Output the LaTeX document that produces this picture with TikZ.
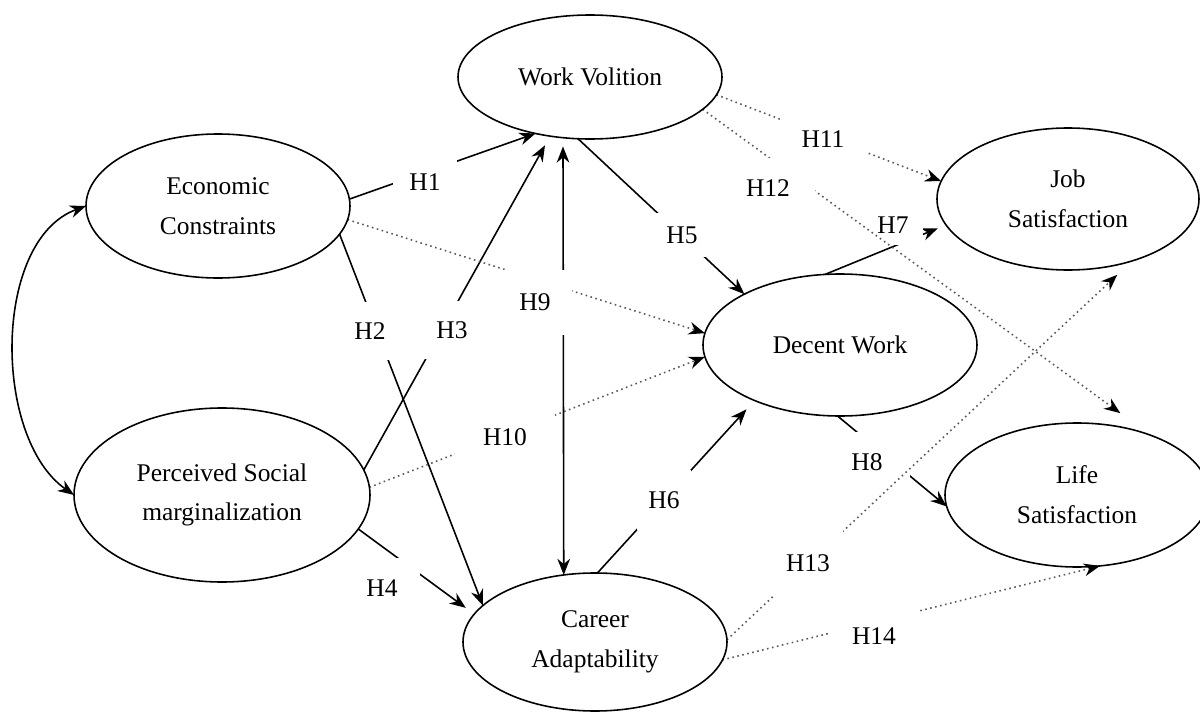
\documentclass[tikz,border=0pt]{standalone}
\usepackage{fontspec}
\setmainfont{Liberation Serif}
\usepackage{tikz}
\usetikzlibrary{arrows.meta}
\usetikzlibrary{shapes.geometric}
\pgfdeclarelayer{edgelayer}
\pgfdeclarelayer{nodelayer}
\pgfsetlayers{edgelayer,nodelayer,main}
\tikzstyle{construct}=[ellipse,draw=black,line width=0.45pt,inner sep=0pt,outer sep=0pt,align=center,font=\fontsize{7.25}{11.3}\selectfont]
\tikzstyle{hypothesis}=[rectangle,fill=white,inner sep=0pt,outer sep=0pt,font=\fontsize{7.25}{11.3}\selectfont]
\tikzstyle{direct}=[-{Stealth[length=4.6pt,width=3.6pt]},draw=black,line width=0.45pt]
\tikzstyle{indirect}=[-{Stealth[length=4.6pt,width=3.6pt,color=black]},draw=black!65,densely dotted,line width=0.45pt]
\tikzstyle{correlation}=[{Stealth[length=4.6pt,width=3.6pt]}-{Stealth[length=4.6pt,width=3.6pt]},draw=black,line width=0.45pt]

\begin{document}
\begin{tikzpicture}
	\useasboundingbox (0, 0) rectangle (12, -7.13);
	\begin{pgfonlayer}{nodelayer}
		\node [style=construct, minimum width=2.64cm, minimum height=1.44cm] (0) at (2.18, -2.06) {Economic\\Constraints};
		\node [style=construct, minimum width=2.96cm, minimum height=1.74cm] (1) at (2.22, -4.95) {Perceived Social\\marginalization};
		\node [style=construct, minimum width=2.64cm, minimum height=1.24cm] (2) at (5.90, -0.77) {Work Volition};
		\node [style=construct, minimum width=2.64cm, minimum height=1.38cm] (3) at (5.95, -6.42) {Career\\Adaptability};
		\node [style=construct, minimum width=2.74cm, minimum height=1.42cm] (4) at (8.40, -3.45) {Decent Work};
		\node [style=construct, minimum width=2.62cm, minimum height=1.42cm] (5) at (10.68, -1.99) {Job\\Satisfaction};
		\node [style=construct, minimum width=2.64cm, minimum height=1.44cm] (6) at (10.77, -4.95) {Life\\Satisfaction};
		\node [style=hypothesis, minimum width=0.64cm, minimum height=0.44cm] (7) at (4.25, -1.82) {H1};
		\node [style=hypothesis, minimum width=0.60cm, minimum height=0.58cm] (8) at (3.70, -3.31) {H2};
		\node [style=hypothesis, minimum width=0.60cm, minimum height=0.58cm] (9) at (4.52, -3.30) {H3};
		\node [style=hypothesis, minimum width=0.76cm, minimum height=0.60cm] (10) at (3.82, -5.88) {H4};
		\node [style=hypothesis, minimum width=0.64cm, minimum height=0.44cm] (11) at (6.82, -2.35) {H5};
		\node [style=hypothesis, minimum width=0.54cm, minimum height=0.60cm] (12) at (6.64, -5.00) {H6};
		\node [style=hypothesis, minimum width=0.74cm, minimum height=0.65cm] (15) at (5.35, -3.02) {H9};
		\node [style=hypothesis, minimum width=1.00cm, minimum height=0.50cm] (16) at (5.05, -4.37) {H10};
		\node [style=hypothesis, minimum width=0.87cm, minimum height=0.44cm] (17) at (8.23, -1.39) {H11};
		\node [style=hypothesis, minimum width=0.94cm, minimum height=0.60cm] (18) at (7.68, -1.88) {H12};
		\node [style=hypothesis, minimum width=0.70cm, minimum height=0.68cm] (19) at (8.08, -5.63) {H13};
		\node [style=hypothesis, minimum width=0.87cm, minimum height=0.56cm] (20) at (8.74, -6.36) {H14};
	\end{pgfonlayer}
	\begin{pgfonlayer}{edgelayer}
		\draw [style=correlation, out=200, in=145, looseness=0.88] (0.180) to (1.180);
		\draw [style=correlation, shorten <=2.5pt] (2.246) to (3.115);
		\draw [style=direct] (0.3) to (2.226);
		\draw [style=direct] (0.347) to (3.162);
		\draw [style=direct, shorten >=3pt] (1.10) to (2.236);
		\draw [style=direct, shorten >=3pt] (1.346) to (3.167);
		\draw [style=direct] (2.259) to (4.152);
		\draw [style=direct, shorten >=3.4pt] (3.88) to (4.213);
		\draw [style=direct, shorten >=2.5pt] (4.102) to (5.192);
		\draw [style=direct] (4.268) to (6.185);
		\draw [style=indirect] (0.354) to (4.175);
		\draw [style=indirect] (1.3) to (4.185);
		\draw [style=indirect] (2.352) to (5.172);
		\draw [style=indirect] (3.352) to (6.288);
		\node [style=hypothesis, minimum width=0.60cm, minimum height=0.39cm] (13) at (8.93, -2.25) {H7};
		\node [style=hypothesis, minimum width=0.86cm, minimum height=0.60cm] (14) at (8.67, -4.62) {H8};
		\draw [style=indirect, shorten >=10.7pt] (2.344) to (6.39);
		\draw [style=indirect, shorten >=5.8pt] (3.1) to (5.316);
	\end{pgfonlayer}
\end{tikzpicture}
\end{document}
